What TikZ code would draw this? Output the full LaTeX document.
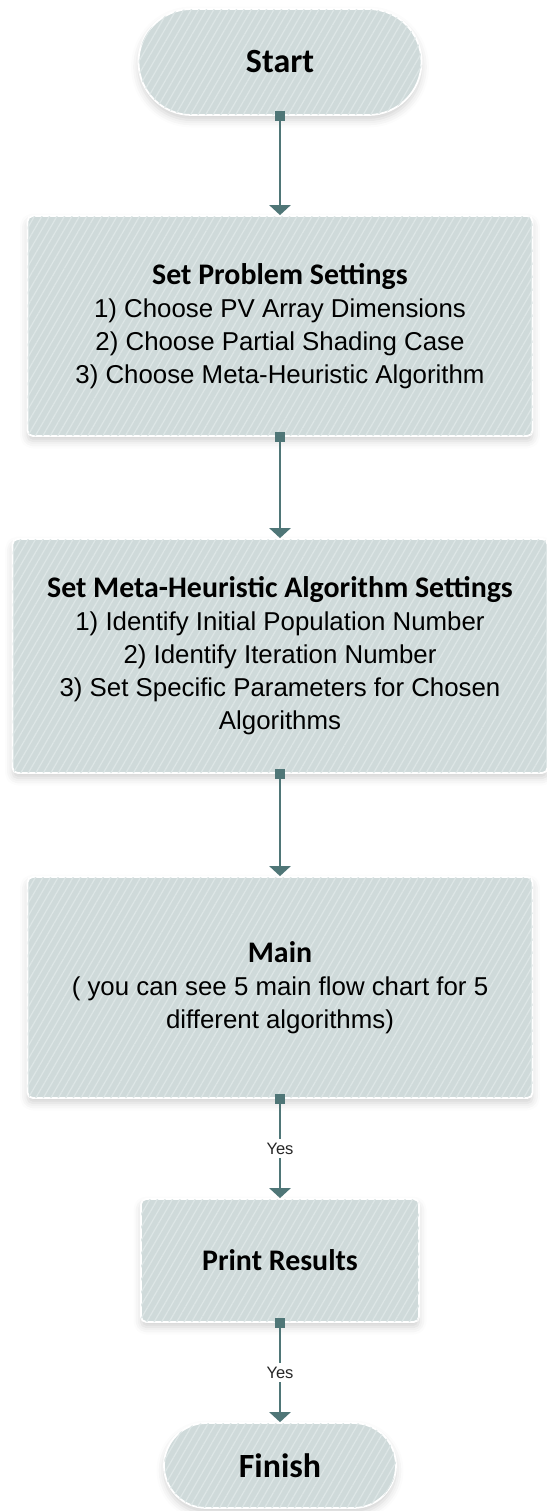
\documentclass[tikz,border=0pt]{standalone}
\usepackage{fontspec}
\setmainfont{Liberation Sans}
\newfontfamily\calibri{Carlito}
\usetikzlibrary{arrows.meta,patterns.meta,shadows.blur}

\definecolor{boxfill}{HTML}{CFDADA}
\definecolor{stripe}{HTML}{DDE6E6}
\definecolor{linkcol}{HTML}{4F7677}

\tikzset{
  block/.style={draw=white, line width=1pt, fill=boxfill, rounded corners=3pt, align=center,
    blur shadow={shadow xshift=0pt, shadow yshift=-0.1cm, shadow opacity=18, shadow blur radius=0.15cm},
    postaction={pattern={Lines[angle=60,distance=0.13cm,line width=0.7pt]}, pattern color=stripe},
    font=\fontsize{14.7}{18.8}\selectfont},
  terminal/.style={block, font=\fontsize{19.3}{22}\calibri\bfseries},
  flow/.style={linkcol, line width=1.7pt, {Square[length=0.2cm,width=0.2cm]}-{Triangle[width=0.42cm,length=0.2cm]}, shorten <=-0.1cm},
  yes/.style={fill=white, inner sep=2pt, font=\fontsize{9.4}{11}\selectfont, text=black!85}
}
\newcommand{\heading}[1]{{\fontsize{17}{18.8}\calibri\bfseries #1}}

\begin{document}
\begin{tikzpicture}
\useasboundingbox (0,0) rectangle (10.94,-30.22);
\node[terminal, minimum width=5.66cm, minimum height=2.12cm, rounded corners=1.06cm] (start) at (5.6,-1.24) {Start};
\node[block, minimum width=10.1cm, minimum height=4.4cm] (problem) at (5.6,-6.52) {\heading{Set Problem Settings}\\1) Choose PV Array Dimensions\\2) Choose Partial Shading Case\\3) Choose Meta-Heuristic Algorithm};
\node[block, minimum width=10.7cm, minimum height=4.68cm] (meta) at (5.6,-13.12) {\heading{Set Meta-Heuristic Algorithm Settings}\\1) Identify Initial Population Number\\2) Identify Iteration Number\\3) Set Specific Parameters for Chosen\\Algorithms};
\node[block, minimum width=10.1cm, minimum height=4.42cm] (main) at (5.6,-19.75) {\heading{Main}\\( you can see 5 main flow chart for 5\\different algorithms)};
\node[block, minimum width=5.56cm, minimum height=2.46cm] (print) at (5.6,-25.21) {\heading{Print Results}};
\node[terminal, minimum width=4.64cm, minimum height=1.7cm, rounded corners=0.85cm] (finish) at (5.6,-29.31) {Finish};
\draw[flow] (start) -- (problem);
\draw[flow] (problem) -- (meta);
\draw[flow] (meta) -- (main);
\draw[flow] (main) -- node[yes] {Yes} (print);
\draw[flow] (print) -- node[yes] {Yes} (finish);
\end{tikzpicture}
\end{document}
